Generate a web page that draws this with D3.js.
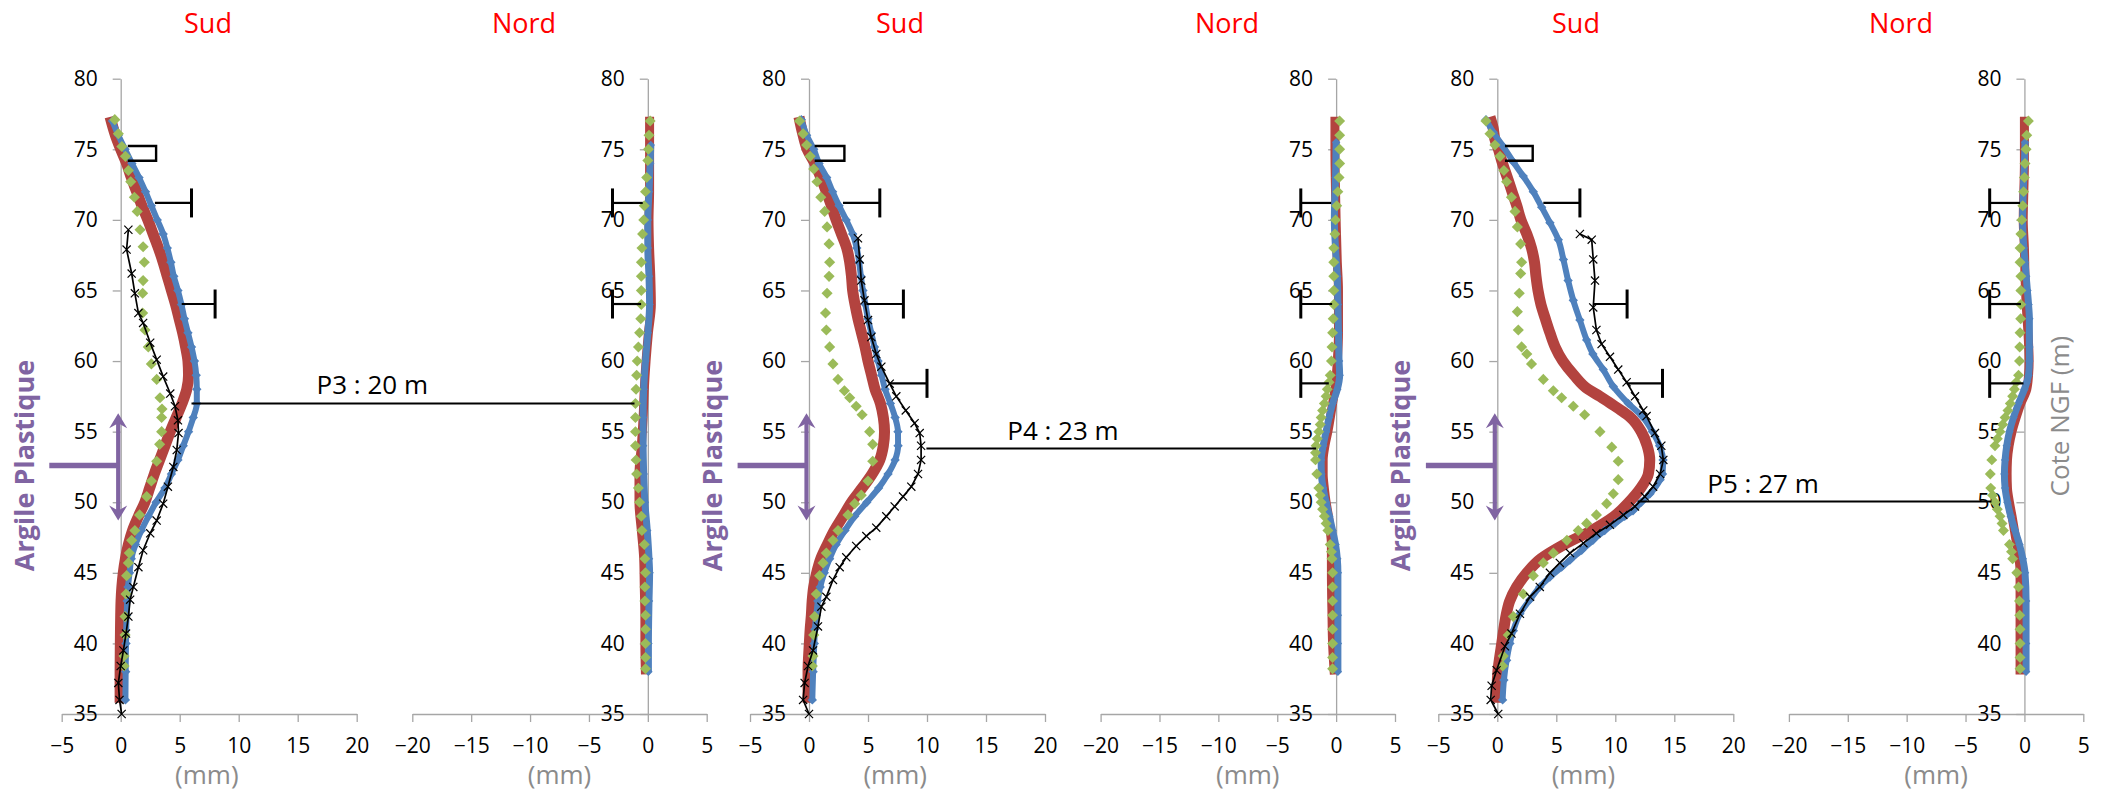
<!DOCTYPE html>
<html><head><meta charset="utf-8">
<script src="https://cdn.jsdelivr.net/npm/d3@7"></script>
<style>
body{margin:0;background:#fff;}
svg{display:block;font-family:"Open Sans",sans-serif;}
</style></head><body>
<svg id="c" width="2111" height="803"></svg>
<script>
// ---------------- DATA ----------------
const depthTicks = [35,40,45,50,55,60,65,70,75,80];
const sudTicks = [-5,0,5,10,15,20];
const nordTicks = [-20,-15,-10,-5,0,5];
const sideTitles = ["Sud","Nord"];
const unitLabel = "(mm)";
const argileLabel = "Argile Plastique";
const coteLabel = "Cote NGF (m)";
// argile plastique layer: [top, bottom, middle] depths (m NGF)
const argileDepths = [56.3, 48.7, 52.6];

// each series: [depth (m NGF), displacement (mm)]
const p3SudRed = [[77.3,-0.9],[76,-0.45],[75,0.0],[74,0.5],[73,0.9],[72,1.35],[71,1.8],[70,2.3],[69,2.75],[68,3.2],[67,3.6],[66,3.95],[65,4.3],[64,4.65],[63,4.95],[62,5.25],[61,5.5],[60,5.7],[59,5.75],[58,5.6],[57,5.2],[56,4.7],[55,4.2],[54,3.75],[53,3.3],[52,2.85],[51,2.45],[50,2.05],[49,1.5],[48,1.0],[47,0.65],[46,0.4],[45,0.22],[44,0.1],[43,0.03],[42,0],[40,-0.03],[38,-0.05],[35.8,-0.05]];
const p3SudBlue = [[77,-0.7],[76,-0.2],[75,0.37],[74,0.95],[73,1.55],[72,2.1],[71,2.6],[70,3.1],[69,3.6],[68,3.95],[67,4.25],[66,4.5],[65,4.85],[64,5.15],[63,5.4],[62,5.7],[61,6.0],[60,6.25],[59,6.4],[58,6.45],[57,6.45],[56,6.15],[55,5.75],[54,5.3],[53,4.85],[52,4.3],[51,3.75],[50,3.0],[49,2.35],[48,1.75],[47,1.25],[46,0.9],[45,0.75],[44,0.62],[43,0.55],[42,0.5],[40,0.45],[38,0.42],[36,0.4]];
const p3SudGreen = [[77.1,-0.5],[76.1,-0.2],[75.2,0.1],[74.5,0.4],[73.5,0.65],[72.7,0.85],[71.6,1.16],[70.6,1.4],[69.3,1.64],[68.1,1.9],[67.0,2.0],[65.7,1.9],[64.8,1.86],[63.4,1.86],[62.2,2.06],[61.0,2.34],[59.8,2.6],[58.7,3.05],[57.4,3.33],[56.6,3.5],[56.0,3.47],[55.0,3.47],[54.1,3.3],[52.9,3.05],[51.5,2.6],[50.4,2.2],[49.1,1.6],[48.0,1.2],[47.3,0.93],[46.4,0.73],[45.7,0.65],[44.8,0.5],[43.5,0.45],[41.9,0.37],[40.6,0.37],[39.1,0.28],[38.4,0.28]];
const p3SudBlack = [[69.3,0.65],[67.9,0.5],[66.2,0.93],[64.8,1.2],[63.4,1.5],[62.7,1.9],[61.3,2.5],[60.1,3.05],[58.9,3.6],[57.7,4.2],[56.8,4.6],[55.8,4.85],[54.9,4.9],[53.7,4.75],[52.5,4.46],[51.1,4.0],[49.9,3.6],[48.7,3.05],[47.8,2.5],[46.6,1.9],[45.4,1.5],[44.0,1.07],[43.1,0.8],[41.9,0.65],[40.7,0.45],[39.5,0.23],[38.4,0],[37.2,-0.2],[36.0,-0.1],[35.0,0.08]];
const p3NordRed = [[77.3,0.15],[75,0.15],[72,0.15],[70,0.1],[68,0.15],[66,0.25],[64,0.3],[62,0.05],[60,-0.15],[58,-0.3],[56,-0.4],[54,-0.55],[52,-0.75],[50,-0.75],[48,-0.55],[46,-0.35],[44,-0.3],[42,-0.25],[40,-0.25],[37.8,-0.2]];
const p3NordBlue = [[75.3,0.25],[74,0.2],[72,0.1],[70,0],[68,0],[66,0.1],[64,0.15],[62,0],[60,-0.2],[58,-0.35],[56,-0.4],[54,-0.4],[52,-0.35],[50,-0.25],[48,-0.05],[46,0.1],[45,0.15],[43,0.1],[40,0.05],[38,0.05]];
const p3NordGreen = [[77,0.2],[76,0.1],[75,0.05],[74.2,0],[73,-0.1],[72,-0.2],[71,-0.3],[70,-0.35],[69,-0.45],[68,-0.5],[67,-0.55],[66,-0.55],[65,-0.55],[64,-0.55],[63,-0.6],[62,-0.7],[61,-0.8],[60,-0.9],[59,-0.95],[58,-1.0],[57,-1.05],[56,-1.05],[55,-1.05],[54,-1.05],[53,-1.0],[52,-0.95],[51,-0.8],[50,-0.7],[49,-0.55],[48,-0.5],[47,-0.3],[46,-0.25],[45,-0.2],[44,-0.25],[43,-0.25],[42,-0.2],[41,-0.2],[40,-0.2],[39,-0.2],[38.2,-0.2]];

const p4SudRed = [[77.3,-0.85],[76,-0.5],[75,-0.15],[74,0.5],[73,1.0],[72,1.47],[71,1.9],[70,2.3],[69,2.75],[68,3.2],[67,3.45],[66,3.6],[65,3.7],[64,3.9],[63,4.15],[62,4.45],[61,4.75],[60,5.0],[59,5.3],[58,5.6],[57,6.05],[56,6.3],[55,6.4],[54,6.3],[53,6.0],[52,5.35],[51,4.5],[50,3.6],[49,2.88],[48,2.15],[47,1.55],[46,1.0],[45,0.65],[44,0.4],[43,0.27],[42,0.2],[41,0.1],[40,0.03],[38,-0.08],[35.8,-0.08]];
const p4SudBlue = [[77.1,-0.65],[76,-0.2],[75,0.4],[74,0.85],[73,1.5],[72,2.0],[71,2.55],[70,3.15],[69,3.7],[68,4.05],[67,4.25],[66,4.4],[65,4.57],[64,4.78],[63,5.0],[62,5.28],[61,5.55],[60,5.85],[59,6.15],[58,6.45],[57,6.9],[56,7.3],[55,7.54],[54,7.55],[53,7.3],[52,6.7],[51,5.9],[50,4.9],[49,3.87],[48,3.05],[47,2.3],[46,1.75],[45,1.3],[44,0.95],[43,0.75],[42,0.62],[41,0.5],[40,0.45],[38,0.35],[36,0.28]];
const p4SudGreen = [[77.0,-0.8],[76.1,-0.5],[75.3,-0.2],[74.5,0.1],[73.6,0.4],[72.7,0.68],[71.6,1.0],[70.6,1.33],[69.5,1.53],[68.3,1.7],[67.0,1.75],[66.0,1.7],[64.8,1.53],[63.4,1.4],[62.2,1.47],[61.0,1.75],[59.8,2.03],[58.7,2.46],[57.9,3.0],[57.4,3.45],[56.8,4.0],[56.2,4.5],[55.0,5.14],[54.1,5.4],[52.9,5.4],[51.5,5.0],[50.5,4.43],[49.9,3.87],[49.1,3.3],[48.0,2.46],[47.3,2.03],[46.4,1.47],[45.7,1.19],[44.8,0.9],[43.5,0.62],[41.9,0.48],[40.6,0.4],[39.1,0.34],[38.4,0.28]];
const p4SudBlack = [[68.7,4.15],[67.2,4.3],[65.7,4.43],[64.3,4.7],[62.9,5.0],[61.7,5.28],[60.5,5.7],[59.6,6.13],[58.4,6.84],[57.5,7.4],[56.5,8.2],[55.6,8.95],[54.9,9.38],[54.0,9.5],[53.0,9.5],[52.0,9.24],[51.1,8.67],[50.4,7.97],[49.7,7.26],[49.0,6.55],[48.2,5.7],[47.6,4.86],[46.9,4.0],[46.1,3.16],[45.4,2.6],[44.5,2.03],[43.3,1.47],[42.6,1.05],[41.2,0.76],[39.5,0.34],[38.4,-0.08],[37.2,-0.37],[36.0,-0.5],[35.0,0]];
const p4NordRed = [[77.3,-0.1],[75,-0.1],[72,-0.05],[70,0],[67,0.1],[65,0.2],[62,0.2],[60,0.1],[58,-0.1],[57,-0.3],[55,-0.7],[54,-0.95],[53,-1.1],[52,-1.1],[51,-1.0],[50,-0.85],[49,-0.65],[48,-0.5],[47,-0.4],[45,-0.4],[42,-0.35],[40,-0.3],[37.8,-0.15]];
const p4NordBlue = [[75.5,0],[73,-0.05],[70,-0.15],[68,-0.05],[66,0.1],[64,0.15],[62,0.2],[60,0.25],[59,0.3],[58,0.1],[57,-0.3],[56,-0.6],[55,-0.85],[54,-1.1],[53,-1.27],[52,-1.25],[51,-1.1],[50,-0.85],[49,-0.57],[48,-0.3],[47,-0.05],[46,0.1],[45,0.15],[42,0.15],[40,0.15],[38,0.15]];
const p4NordGreen = [[77,0.3],[76,0.3],[75,0.3],[74,0.3],[73,0.25],[72,0.15],[71,0.05],[70,-0.05],[69,-0.1],[68,-0.2],[67,-0.2],[66,-0.2],[65,-0.2],[64,-0.2],[63,-0.25],[62,-0.3],[61,-0.35],[60,-0.4],[59,-0.5],[58.5,-0.6],[58,-0.75],[57.5,-0.85],[57,-1.0],[56.5,-1.15],[56,-1.27],[55.5,-1.35],[55,-1.47],[54.5,-1.6],[54,-1.7],[53.5,-1.75],[53,-1.75],[52,-1.64],[51,-1.47],[50.5,-1.35],[50,-1.27],[49.5,-1.15],[49,-1.0],[48.5,-0.85],[48,-0.7],[47,-0.5],[46.5,-0.4],[46,-0.35],[45,-0.3],[44,-0.3],[43,-0.3],[42,-0.3],[41,-0.3],[40,-0.3],[39,-0.3],[38.2,-0.3]];

const p5SudRed = [[77.3,-0.62],[76.5,-0.35],[75.7,-0.2],[75,0.1],[74.2,0.37],[73,0.85],[72,1.25],[71,1.65],[70,2.0],[69,2.5],[68,2.9],[67,3.15],[66,3.28],[65,3.45],[64,3.7],[63,4.07],[62,4.46],[61,4.9],[60,5.55],[59,6.5],[58,7.7],[57.5,8.7],[57,9.6],[56.5,10.5],[56,11.3],[55,12.2],[54,12.7],[53,12.92],[52,12.8],[51,12.15],[50,11.15],[49,9.9],[48,8.0],[47,5.65],[46,3.7],[45,2.5],[44,1.64],[43,1.05],[42,0.75],[41,0.55],[40,0.38],[39,0.2],[38,0.05],[37,0],[35.8,0]];
const p5SudBlue = [[77.1,-0.96],[76.2,-0.34],[75.2,0.5],[74.1,1.36],[73.1,2.2],[72.0,3.05],[70.9,3.76],[69.8,4.46],[68.6,5.17],[67.2,5.6],[65.7,6.0],[64.3,6.44],[62.9,7.0],[61.5,7.57],[60.5,8.1],[59.4,8.98],[58.2,9.83],[57.0,11.1],[56.1,12.25],[55,13.15],[54,13.75],[53,14.05],[52,14.0],[51.6,13.8],[50.6,12.94],[50.0,12.2],[49.4,11.5],[49.0,10.8],[48.5,9.97],[48.0,9.1],[47.3,8.1],[46.6,7.15],[45.9,6.16],[45.4,5.45],[44.7,4.46],[44.0,3.6],[43.1,2.77],[42.1,1.92],[40.9,1.36],[40.0,1.07],[38.8,0.79],[37.4,0.56],[36.0,0.45]];
const p5SudGreen = [[77.0,-0.96],[76.1,-0.62],[75.3,-0.2],[74.5,0.23],[73.5,0.56],[72.7,0.79],[71.6,1.2],[70.6,1.5],[69.5,1.7],[68.3,1.98],[67.0,2.06],[66.2,1.98],[64.8,1.86],[63.5,1.7],[62.2,1.78],[61.0,2.06],[60.5,2.5],[59.8,2.9],[58.7,3.9],[57.9,4.75],[57.4,5.45],[56.8,6.44],[56.2,7.4],[55.0,8.7],[53.9,9.7],[52.9,10.25],[51.6,10.25],[50.6,9.83],[49.9,9.27],[49.1,8.4],[48.5,7.57],[48.0,6.86],[47.3,5.9],[46.4,4.75],[45.7,3.9],[44.8,3.05],[43.5,2.2],[41.9,1.36],[40.6,0.93],[39.1,0.5],[38.4,0.45]];
const p5SudBlack = [[69.0,7.0],[68.6,8.0],[67.2,8.13],[65.7,8.28],[63.8,8.13],[62.2,8.4],[61.2,8.84],[60.3,9.55],[59.4,10.25],[58.5,10.96],[57.5,11.67],[56.5,12.37],[56.1,12.65],[54.9,13.36],[54.0,13.9],[53.0,14.07],[52.0,13.8],[51.1,13.2],[50.4,12.5],[49.7,11.67],[49.1,10.68],[48.4,9.55],[47.8,8.4],[47.1,7.3],[46.4,6.16],[45.7,5.3],[45.0,4.46],[44.0,3.6],[43.3,2.77],[42.1,1.92],[40.7,1.2],[39.8,0.65],[38.1,-0.06],[37.0,-0.48],[36.0,-0.56],[35.0,0.08]];
const p5NordRed = [[77.3,0],[74,0],[72,-0.05],[70,-0.1],[68,0],[66,0.05],[64,0.15],[62,0.3],[60,0.4],[59,0.35],[58,0.2],[57,-0.3],[56,-0.7],[55,-1.05],[54,-1.3],[53,-1.44],[52,-1.47],[51,-1.44],[50,-1.27],[49,-1.05],[48,-0.85],[47,-0.65],[46,-0.45],[45,-0.37],[42,-0.37],[40,-0.37],[37.8,-0.37]];
const p5NordBlue = [[75.5,0.05],[74,0],[72,-0.1],[70,-0.15],[68,-0.05],[67,0.05],[66,0.15],[65,0.25],[64,0.35],[63,0.42],[61,0.42],[60,0.42],[59,0.35],[58.5,0.2],[58,0],[57,-0.5],[56,-0.93],[55,-1.27],[54,-1.5],[53,-1.64],[52,-1.7],[51,-1.64],[50,-1.44],[49,-1.16],[48,-0.8],[47,-0.42],[46,-0.14],[45,0.05],[43,0.14],[40,0.14],[38,0.14]];
const p5NordGreen = [[77,0.34],[76,0.2],[75,0.14],[74,0.05],[73,0],[72,-0.07],[71,-0.14],[70,-0.22],[69,-0.3],[68,-0.37],[67,-0.37],[66,-0.3],[65,-0.3],[64,-0.3],[63,-0.32],[62,-0.37],[61,-0.4],[60,-0.42],[59,-0.5],[58.5,-0.7],[58,-0.85],[57.5,-1.0],[57,-1.2],[56.5,-1.4],[56,-1.64],[55.5,-1.85],[55,-2.07],[54.5,-2.3],[54,-2.5],[53,-2.77],[52,-2.9],[51,-2.86],[50.5,-2.7],[50,-2.5],[49.5,-2.3],[49,-2.07],[48.5,-1.9],[48,-1.78],[47,-1.27],[46.5,-1.1],[46,-1.0],[45,-0.65],[44,-0.5],[43,-0.42],[42,-0.4],[41,-0.37],[40,-0.37],[39,-0.37],[38.2,-0.37]];

// error bars: [depth, start (mm), capped end (mm)]
const p3SudErr = [[71.2,2.9,6.0],[64.04,5.17,8.0]];
const p4SudErr = [[71.2,2.88,6.0],[64.04,4.86,8.0],[58.42,6.84,10.0]];
const p5SudErr = [[71.2,3.9,7.0],[64.04,8.13,11.0],[58.42,10.96,14.0]];
const p3NordErr = [[71.2,-0.43,-3.0],[64.04,-0.57,-3.0]];
const p4NordErr = [[71.2,-0.42,-3.0],[64.04,-0.34,-3.0],[58.42,-0.62,-3.0]];
const p5NordErr = [[71.2,-0.37,-2.95],[64.04,-0.3,-2.95],[58.42,-0.08,-2.95]];
// bracket: [top depth, bottom depth, start mm, end mm]
const sudBrackets = [[75.23,74.19,0.6,3.0],[75.23,74.19,0.48,3.0],[75.23,74.19,0.65,3.0]];

// piezometer links: label, depth, sud mm, nord mm, label position (sud mm)
const pLabels = ["P3 : 20 m","P4 : 23 m","P5 : 27 m"];
const pDepths = [57.0, 53.8, 50.05];
const pSudEnd = [6.0, 9.95, 11.9];
const pNordEnd = [-1.13, -1.7, -2.8];
const pLabelMm = [16.6, 16.8, 17.8];

const panels = [
  {sud:{red:p3SudRed,blue:p3SudBlue,green:p3SudGreen,black:p3SudBlack,err:p3SudErr},
   nord:{red:p3NordRed,blue:p3NordBlue,green:p3NordGreen,err:p3NordErr}},
  {sud:{red:p4SudRed,blue:p4SudBlue,green:p4SudGreen,black:p4SudBlack,err:p4SudErr},
   nord:{red:p4NordRed,blue:p4NordBlue,green:p4NordGreen,err:p4NordErr}},
  {sud:{red:p5SudRed,blue:p5SudBlue,green:p5SudGreen,black:p5SudBlack,err:p5SudErr},
   nord:{red:p5NordRed,blue:p5NordBlue,green:p5NordGreen,err:p5NordErr}}
];

// ---------------- LAYOUT / STYLE ----------------
const step = 688.3;
const sudTitleX = [208, 900, 1576];
const nordTitleX = [524, 1227, 1901];
const C = {red:"#b3433f", blue:"#4f81bd", green:"#9bbb59", black:"#000", axis:"#a6a6a6",
           purple:"#8064a2", gray:"#8b8b8b", title:"#ff0000"};

const svg = d3.select("#c");
const y = d3.scaleLinear().domain([35,80]).range([714,78.7]);
const sudX = i => d3.scaleLinear().domain([-5,20]).range([61.7+step*i, 356.7+step*i]);
const nordX = i => d3.scaleLinear().domain([-20,5]).range([412.3+step*i, 706.7+step*i]);

function axes(g, x, ticks){
  const ax = g.append("g").attr("transform",`translate(0,${y(35)})`)
    .call(d3.axisBottom(x).tickValues(ticks).tickSize(8).tickSizeOuter(0).tickPadding(16));
  const ay = g.append("g").attr("transform",`translate(${x(0)},0)`)
    .call(d3.axisLeft(y).tickValues(depthTicks).tickSize(8).tickSizeOuter(0).tickPadding(15));
  [ax,ay].forEach(a=>{
    a.attr("font-family",null).attr("font-size",null);
    a.selectAll(".domain,.tick line").attr("stroke",C.axis).attr("stroke-width",1.3);
    a.selectAll("text").attr("fill","#000").style("font-size","21px").style("font-family","'Open Sans'");
  });
}

const diamond = s => d3.symbol(d3.symbolSquare, s);

function series(g, x, S, opts){
  const lineSmooth = d3.line().x(d=>x(d[1])).y(d=>y(d[0])).curve(d3.curveMonotoneY);
  const lineStraight = d3.line().x(d=>x(d[1])).y(d=>y(d[0]));
  // red band
  g.append("path").attr("d", lineSmooth(S.red)).attr("fill","none")
    .attr("stroke",C.red).attr("stroke-width",opts.redW);
  // blue line + diamonds
  g.append("path").attr("d", lineSmooth(S.blue)).attr("fill","none")
    .attr("stroke",C.blue).attr("stroke-width",opts.blueW);
  g.append("g").selectAll("path").data(S.blue).join("path")
    .attr("d", diamond(opts.blueS)())
    .attr("transform", d=>`translate(${x(d[1])},${y(d[0])}) rotate(45)`)
    .attr("fill",C.blue);
  // green diamonds
  g.append("g").selectAll("path").data(S.green).join("path")
    .attr("d", diamond(opts.greenS)())
    .attr("transform", d=>`translate(${x(d[1])},${y(d[0])}) rotate(45)`)
    .attr("fill",C.green);
  // black line with x markers
  if(S.black){
    g.append("path").attr("d", lineStraight(S.black)).attr("fill","none")
      .attr("stroke",C.black).attr("stroke-width",1.7);
    g.append("g").selectAll("path").data(S.black).join("path")
      .attr("d", d3.symbol(d3.symbolX, 45)())
      .attr("transform", d=>`translate(${x(d[1])},${y(d[0])})`)
      .attr("fill","none").attr("stroke",C.black).attr("stroke-width",1.2);
  }
  // error bars
  const eg = g.append("g");
  eg.selectAll("line.h").data(S.err).join("line").attr("class","h")
    .attr("x1",d=>x(d[1])).attr("x2",d=>x(d[2])).attr("y1",d=>y(d[0])).attr("y2",d=>y(d[0]))
    .attr("stroke","#000").attr("stroke-width",2.2);
  eg.selectAll("line.c").data(S.err).join("line").attr("class","c")
    .attr("x1",d=>x(d[2])).attr("x2",d=>x(d[2])).attr("y1",d=>y(d[0])-14.5).attr("y2",d=>y(d[0])+14.5)
    .attr("stroke","#000").attr("stroke-width",3);
}

panels.forEach((P,i)=>{
  const g = svg.append("g");
  const xs = sudX(i), xn = nordX(i);
  axes(g, xs, sudTicks);
  axes(g, xn, nordTicks);
  series(g, xs, P.sud, {redW:11, blueW:6, blueS:44, greenS:62});
  series(g, xn, P.nord, {redW:9, blueW:7, blueS:36, greenS:60});
  // bracket
  const b = sudBrackets[i];
  g.append("path").attr("d",`M${xs(b[2])},${y(b[0])}H${xs(b[3])}V${y(b[1])}H${xs(b[2])}`)
    .attr("fill","none").attr("stroke","#000").attr("stroke-width",2.4);
  // piezometer link
  g.append("line").attr("x1",xs(pSudEnd[i])).attr("x2",xn(pNordEnd[i]))
    .attr("y1",y(pDepths[i])).attr("y2",y(pDepths[i])).attr("stroke","#000").attr("stroke-width",2);
  g.append("text").attr("x",xs(pLabelMm[i])).attr("y",y(pDepths[i])-9)
    .attr("font-size","26px").attr("fill","#000").text(pLabels[i]);
  // titles
  g.append("text").attr("x",sudTitleX[i]).attr("y",33).attr("text-anchor","middle")
    .attr("font-size","27px").attr("fill",C.title).text(sideTitles[0]);
  g.append("text").attr("x",nordTitleX[i]).attr("y",33).attr("text-anchor","middle")
    .attr("font-size","27px").attr("fill",C.title).text(sideTitles[1]);
  // (mm)
  g.append("text").attr("x",xs(7.3)).attr("y",784).attr("text-anchor","middle")
    .attr("font-size","26px").attr("fill",C.gray).text(unitLabel);
  g.append("text").attr("x",xn(-7.5)).attr("y",784).attr("text-anchor","middle")
    .attr("font-size","26px").attr("fill",C.gray).text(unitLabel);
  // argile plastique marker
  const ax0 = xs(0) - 2.5;
  const yt = y(argileDepths[0]), yb = y(argileDepths[1]), ym = y(argileDepths[2]);
  g.append("line").attr("x1",ax0).attr("x2",ax0).attr("y1",yt+8).attr("y2",yb-8)
    .attr("stroke",C.purple).attr("stroke-width",4.2);
  g.append("path").attr("d",`M${ax0},${yt}L${ax0-9},${yt+15}L${ax0},${yt+10}L${ax0+9},${yt+15}Z`).attr("fill",C.purple);
  g.append("path").attr("d",`M${ax0},${yb}L${ax0-9},${yb-15}L${ax0},${yb-10}L${ax0+9},${yb-15}Z`).attr("fill",C.purple);
  g.append("line").attr("x1",xs(0)-71.4).attr("x2",ax0).attr("y1",ym).attr("y2",ym)
    .attr("stroke",C.purple).attr("stroke-width",5.5);
  g.append("text").attr("transform",`translate(${xs(0)-87.2},${ym}) rotate(-90)`)
    .attr("text-anchor","middle").attr("font-size","27px").attr("font-weight","bold")
    .attr("fill",C.purple).text(argileLabel);
});

// Cote NGF label (right side)
svg.append("text").attr("transform",`translate(${nordX(2)(3.8)},${y(56.1)}) rotate(-90)`)
  .attr("text-anchor","middle").attr("font-size","26px").attr("fill",C.gray).text(coteLabel);
</script>
</body></html>
